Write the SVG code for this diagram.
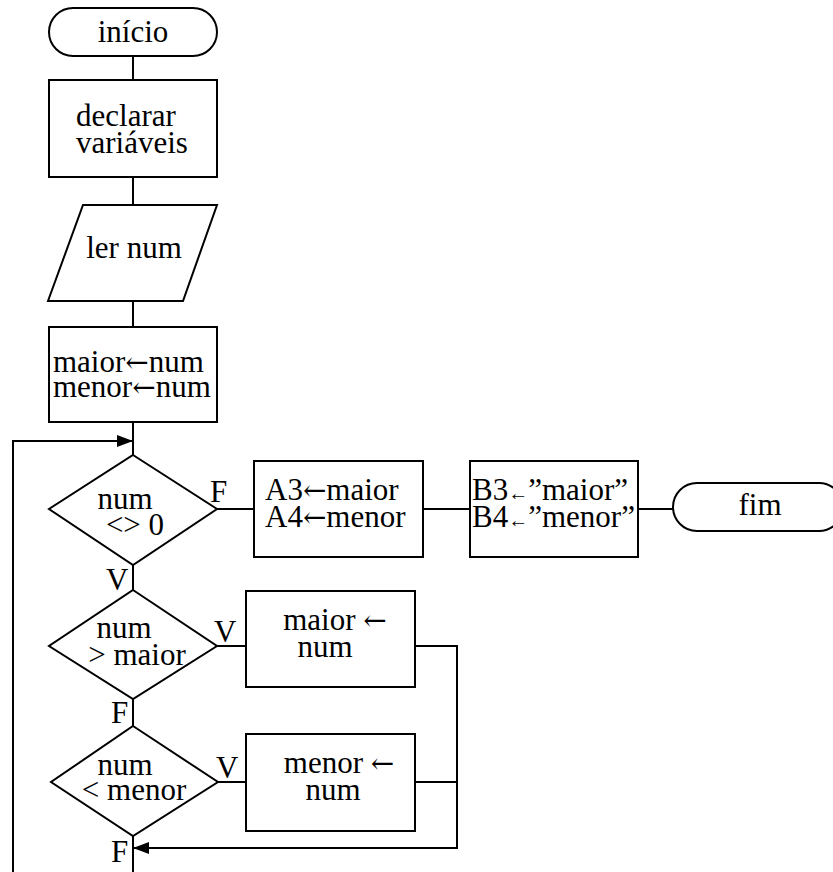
<svg xmlns="http://www.w3.org/2000/svg" width="833" height="872" viewBox="0 0 833 872">
<style>
.s{fill:#fff;stroke:#000;stroke-width:2}
.c{fill:none;stroke:#000;stroke-width:2}
text{font-family:"Liberation Serif","Times New Roman",serif;font-size:31px;fill:#000}
.m{text-anchor:middle}
.sa{font-size:20px}
.a{font-family:"DejaVu Serif",serif;font-size:28px}
</style>
<defs>
<marker id="ah" markerWidth="16" markerHeight="12" refX="16" refY="6" orient="auto" markerUnits="userSpaceOnUse">
<path d="M0,0 L16,6 L0,12 Z" fill="#000"/>
</marker>
<clipPath id="clipInit"><rect x="49" y="327" width="168" height="95"/></clipPath>
</defs>
<g id="connectors">
<line class="c" x1="133" y1="56" x2="133" y2="80"/>
<line class="c" x1="133" y1="177" x2="133" y2="205"/>
<line class="c" x1="133" y1="301" x2="133" y2="327"/>
<line class="c" x1="133" y1="422" x2="133" y2="455"/>
<polyline class="c" points="13,872 13,441 133,441" marker-end="url(#ah)"/>
<line class="c" x1="217" y1="509" x2="254" y2="509"/>
<line class="c" x1="423" y1="509" x2="470" y2="509"/>
<line class="c" x1="638" y1="509" x2="673" y2="509"/>
<line class="c" x1="133" y1="565" x2="133" y2="590"/>
<line class="c" x1="217" y1="646" x2="246" y2="646"/>
<line class="c" x1="133" y1="699" x2="133" y2="726"/>
<line class="c" x1="218" y1="782" x2="246" y2="782"/>
<polyline class="c" points="415,646 457,646 457,848 133,848" marker-end="url(#ah)"/>
<line class="c" x1="415" y1="782" x2="457" y2="782"/>
<line class="c" x1="133" y1="836" x2="133" y2="872"/>
<text x="210" y="502">F</text>
<text x="106" y="590">V</text>
<text x="214" y="642">V</text>
<text x="111" y="723">F</text>
<text x="216" y="778">V</text>
<text x="111" y="862">F</text>
</g>
<g id="inicio">
<rect class="s" x="49" y="8" width="168" height="48" rx="24"/>
<text class="m" x="133" y="42">início</text>
</g>
<g id="declarar">
<rect class="s" x="49" y="80" width="168" height="97"/>
<text x="76" y="126">declarar</text>
<text x="76" y="153">variáveis</text>
</g>
<g id="ler">
<polygon class="s" points="83,205 217,205 183,301 48,301"/>
<text class="m" x="134" y="258">ler num</text>
</g>
<g id="init">
<rect class="s" x="49" y="327" width="168" height="95"/>
<g clip-path="url(#clipInit)">
<text x="53" y="372">maior<tspan class="a">←</tspan>num</text>
<text x="53" y="397">menor<tspan class="a">←</tspan>num</text>
</g>
</g>
<g id="cond1">
<polygon class="s" points="133,455 217,509 133,565 49,509"/>
<text class="m" x="125" y="509">num</text>
<text class="m" x="135" y="535">&lt;&gt; 0</text>
</g>
<g id="saveA">
<rect class="s" x="254" y="461" width="169" height="96"/>
<text x="265" y="500">A3<tspan class="a">←</tspan>maior</text>
<text x="265" y="527">A4<tspan class="a">←</tspan>menor</text>
</g>
<g id="saveB">
<rect class="s" x="470" y="461" width="168" height="96"/>
<text x="472" y="500">B3<tspan class="sa">←</tspan>”maior”</text>
<text x="472" y="527">B4<tspan class="sa">←</tspan>”menor”</text>
</g>
<g id="fim">
<rect class="s" x="673" y="483" width="170" height="48" rx="24"/>
<text class="m" x="760" y="515">fim</text>
</g>
<g id="cond2">
<polygon class="s" points="133,590 217,646 133,699 49,646"/>
<text class="m" x="124" y="638">num</text>
<text class="m" x="137" y="665">&gt; maior</text>
</g>
<g id="setMaior">
<rect class="s" x="246" y="591" width="169" height="96"/>
<text class="m" x="335" y="630">maior <tspan class="a">←</tspan></text>
<text class="m" x="325" y="657">num</text>
</g>
<g id="cond3">
<polygon class="s" points="133,726 218,782 133,836 51,782"/>
<text class="m" x="125" y="775">num</text>
<text class="m" x="134" y="800">&lt; menor</text>
</g>
<g id="setMenor">
<rect class="s" x="246" y="734" width="169" height="97"/>
<text class="m" x="339" y="773">menor <tspan class="a">←</tspan></text>
<text class="m" x="333" y="800">num</text>
</g>
</svg>
